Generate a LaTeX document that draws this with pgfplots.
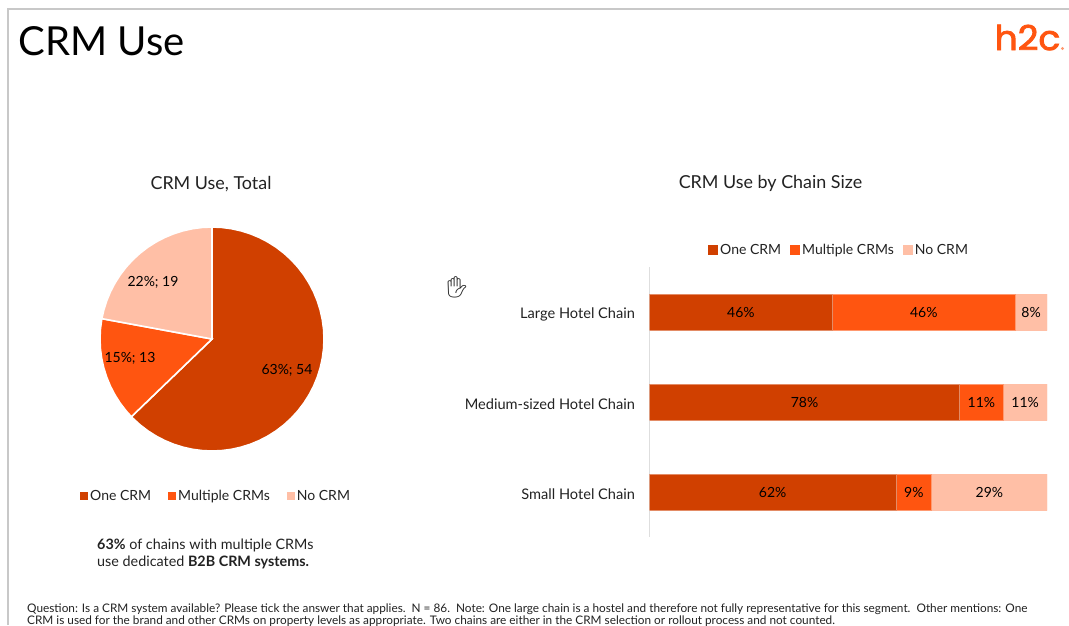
\documentclass[border=0pt]{standalone}
\usepackage{fontspec}
\usepackage{pgfplots}
\usepackage{pgfplotstable}
\pgfplotsset{compat=1.18}
\usepgfplotslibrary{polar}
\setmainfont{Lato}
\newfontfamily\emojifont{Noto Emoji}
\newfontfamily\logofont[FakeBold=2.4]{Poppins}
\definecolor{oneCRM}{HTML}{D04000}
\definecolor{multiCRM}{HTML}{FF5510}
\definecolor{noCRM}{HTML}{FFBFA6}
\definecolor{ink}{HTML}{222222}
\definecolor{framegray}{HTML}{C8C8C8}

% Share of chains per size class, in percent
\pgfplotstableread{
row one multi none
0 46 46 8
1 78 11 11
2 62 9 29
}\chainsize

\pgfplotsset{
  swatch/.style={
    legend image code/.code={\fill[##1,draw=none] (0pt,-#1/2) rectangle (#1,#1/2);}
  }
}
\begin{document}
\begin{tikzpicture}
\useasboundingbox (0pt,-625pt) rectangle (1069pt,0pt);

% Slide frame
\draw[framegray,line width=1.6pt] (8pt,-625pt) -- (8pt,-9pt) -- (1069pt,-9pt);

% Pie of all chains: 54, 13 and 19 of 86, clockwise from the top
\begin{polaraxis}[
  at={(212pt,-339pt)}, anchor=center,
  scale only axis, width=224pt, height=224pt,
  ymin=0, ymax=1, xmin=0, xmax=360,
  hide axis, clip=false,
  legend columns=3,
  legend style={draw=none,fill=none,at={(axis cs:-88.5,1.402)},anchor=center,
    font=\fontsize{14}{16}\selectfont\color{ink},
    /tikz/every even column/.append style={column sep=15pt}},
  swatch=8pt,
]
\addplot[fill=oneCRM,draw=white,line width=1.6pt] coordinates {
 (90,0) (90,1) (85,1) (80,1) (75,1) (70,1) (65,1) (60,1) (55,1) (50,1) (45,1) (40,1) (35,1)
 (30,1) (25,1) (20,1) (15,1) (10,1) (5,1) (0,1) (-5,1) (-10,1) (-15,1) (-20,1) (-25,1)
 (-30,1) (-35,1) (-40,1) (-45,1) (-50,1) (-55,1) (-60,1) (-65,1) (-70,1) (-75,1) (-80,1)
 (-85,1) (-90,1) (-95,1) (-100,1) (-105,1) (-110,1) (-115,1) (-120,1) (-125,1) (-130,1)
 (-135,1) (-136.05,1) (-136.05,0)} \closedcycle;
\addplot[fill=multiCRM,draw=white,line width=1.6pt] coordinates {
 (-136.05,0) (-136.05,1) (-140,1) (-145,1) (-150,1) (-155,1) (-160,1) (-165,1) (-170,1)
 (-175,1) (-180,1) (-185,1) (-190,1) (-190.47,1) (-190.47,0)} \closedcycle;
\addplot[fill=noCRM,draw=white,line width=1.6pt] coordinates {
 (-190.47,0) (-190.47,1) (-195,1) (-200,1) (-205,1) (-210,1) (-215,1) (-220,1) (-225,1)
 (-230,1) (-235,1) (-240,1) (-245,1) (-250,1) (-255,1) (-260,1) (-265,1) (-270,1) (-270,0)} \closedcycle;
\legend{One CRM,Multiple CRMs,No CRM}
\end{polaraxis}

% Stacked bars by chain size
\begin{axis}[
  at={(649.5pt,-267pt)}, anchor=north west,
  scale only axis, width=397.5pt, height=270pt,
  xbar stacked, bar width=36pt,
  xmin=0, xmax=100, ymin=-0.5, ymax=2.5, y dir=reverse,
  hide x axis, axis y line*=left,
  y axis line style={draw=black!13,line width=0.9pt,-},
  ytick={0,1,2},
  yticklabels={Large Hotel Chain,Medium-sized Hotel Chain,Small Hotel Chain},
  major tick length=0pt,
  y tick label style={font=\fontsize{14.6}{16}\selectfont,text=ink,anchor=east,xshift=-11pt,yshift=-2pt},
  point meta=explicit,
  nodes near coords={\pgfmathprintnumber[assume math mode=true]{\pgfplotspointmeta}\%},
  nodes near coords style={font=\fontsize{14}{16}\selectfont,text=black},
  legend columns=3,
  legend style={draw=none,fill=none,at={(axis cs:47.7,-0.5)},anchor=center,yshift=17pt,
    font=\fontsize{14}{16}\selectfont\color{ink},
    /tikz/every even column/.append style={column sep=7pt}},
  swatch=10pt,
]
\addplot[fill=oneCRM,draw=oneCRM!60!white,line width=0.5pt] table[x=one,y=row,meta=one] {\chainsize};
\addplot[fill=multiCRM,draw=multiCRM!60!white,line width=0.5pt] table[x=multi,y=row,meta=multi] {\chainsize};
\addplot[fill=noCRM,draw=noCRM,line width=0.5pt] table[x=none,y=row,meta=none] {\chainsize};
\legend{One CRM,Multiple CRMs,No CRM}
\end{axis}

% Slide text
\begin{scope}[x=1pt,y=-1pt,every node/.style={text=ink,inner sep=0pt}]
\node[anchor=base west,text=black,font=\fontsize{40}{44}\selectfont] at (18.5,55) {CRM Use};
\node[anchor=base east,yscale=0.95,text=multiCRM,font=\logofont\fontsize{36}{36}\selectfont] at (1060.5,50) {h2c};
\fill[multiCRM!60!white] (1062.5,48.5) circle (1.6);
\node[font=\fontsize{17.9}{20}\selectfont] at (211,184) {CRM Use, Total};
\node[font=\fontsize{17.9}{20}\selectfont] at (770.5,183) {CRM Use by Chain Size};
\node[text=black,font=\fontsize{14}{16}\selectfont] at (287,370) {63\%; 54};
\node[text=black,font=\fontsize{14}{16}\selectfont] at (130,358) {15\%; 13};
\node[text=black,font=\fontsize{14}{16}\selectfont] at (153,282) {22\%; 19};
\node[anchor=base west,font=\fontsize{14.35}{16}\selectfont] at (97,549) {\textbf{63\%} of chains with multiple CRMs};
\node[anchor=base west,font=\fontsize{14.35}{16}\selectfont] at (97,566) {use dedicated \textbf{B2B CRM systems.}};
\node[anchor=base west,font=\fontsize{11.8}{12}\selectfont] at (27,612) {Question: Is a CRM system available? Please tick the answer that applies.\ \ N = 86.\ \ Note: One large chain is a hostel and therefore not fully representative for this segment.\ \ Other mentions: One};
\node[anchor=base west,font=\fontsize{11.8}{12}\selectfont] at (27,624) {CRM is used for the brand and other CRMs on property levels as appropriate. Two chains are either in the CRM selection or rollout process and not counted.};
\node[xscale=1.1,font=\emojifont\fontsize{21}{21}\selectfont] at (457,287) {✋};
\end{scope}
\end{tikzpicture}
\end{document}
